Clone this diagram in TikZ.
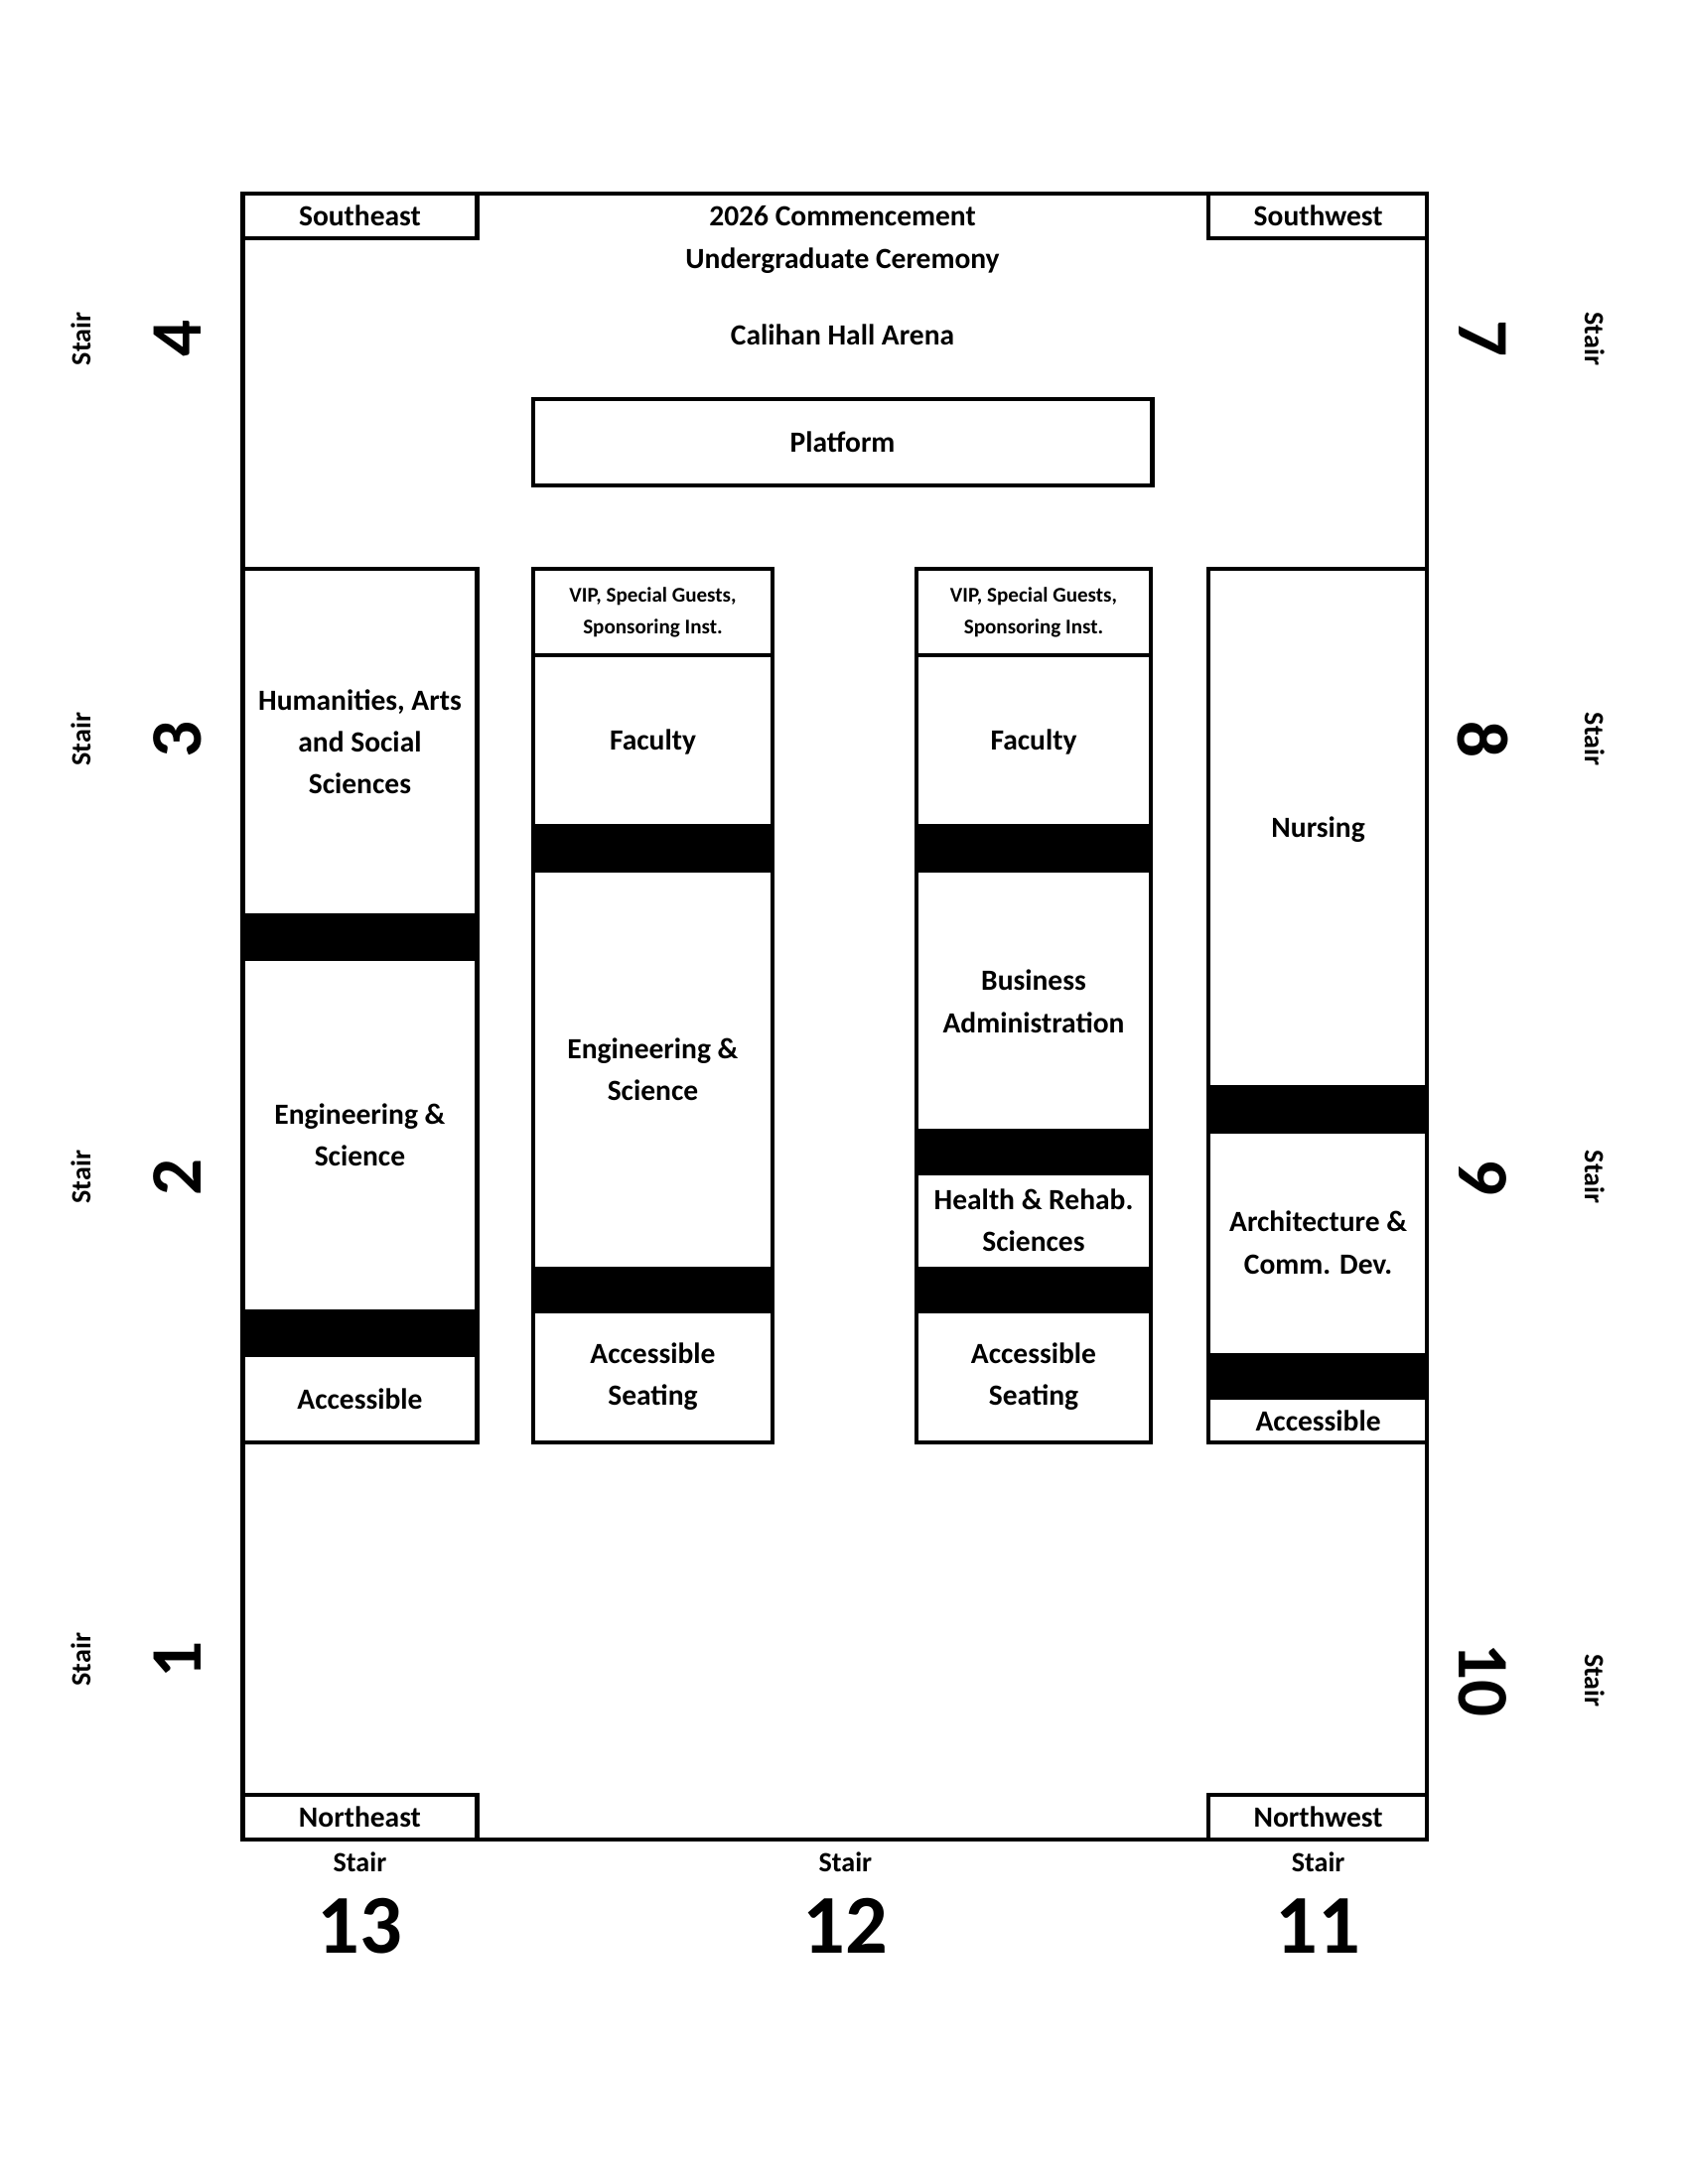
\documentclass[tikz,border=0pt]{standalone}
\usepackage{fontspec}
\setmainfont{Carlito}
\begin{document}
\begin{tikzpicture}[x=0.5pt,y=-0.5pt,
  box/.style={draw,line width=1.5pt},
  bar/.style={fill=black},
  lab/.style={font=\bfseries\fontsize{10.5}{15}\selectfont,align=center,inner sep=0},
  sm/.style={font=\bfseries\fontsize{7.5}{11.5}\selectfont,align=center,inner sep=0},
  big/.style={font=\bfseries\fontsize{26}{26}\selectfont,inner sep=0},
  bot/.style={font=\bfseries\fontsize{30}{30}\selectfont,inner sep=0},
  st/.style={font=\bfseries\fontsize{10}{12}\selectfont,inner sep=0}]
\useasboundingbox (0,0) rectangle (1210,1566);
\fill[white] (0,0) rectangle (1210,1566);
% outer
\draw[box] (174,139) rectangle (1023,1319);
\draw[box] (174,139) rectangle (342,171);
\draw[box] (866,139) rectangle (1023,171);
\draw[box] (174,1287) rectangle (342,1319);
\draw[box] (866,1287) rectangle (1023,1319);
\node[lab] (se) at (258,155) {Southeast};
\node[lab] (sw) at (945,155) {Southwest};
\node[lab] (ne) at (258,1303) {Northeast};
\node[lab] (nw) at (945,1303) {Northwest};
\node[lab] (t1) at (604,155) {2026 Commencement};
\node[lab] (t2) at (604,187) {Undergraduate Ceremony};
\node[lab] (t3) at (604,240) {Calihan Hall Arena};
\draw[box] (382,286) rectangle (826,348);
\node[lab] (pl) at (604,317) {Platform};
% column 1
\draw[box] (174,408) rectangle (342,1034);
\fill[bar] (174,655) rectangle (342,689);
\fill[bar] (174,939) rectangle (342,973);
\node[lab] (c1a) at (258,532) {Humanities, Arts\\and Social\\Sciences};
\node[lab] (c1b) at (258,814) {Engineering \&\\Science};
\node[lab] (c1c) at (258,1003) {Accessible};
% column 2
\draw[box] (382,408) rectangle (554,1034);
\draw[box] (382,470) -- (554,470);
\fill[bar] (382,591) rectangle (554,626);
\fill[bar] (382,908) rectangle (554,942);
\node[sm] (c2a) at (468,439) {VIP, Special Guests,\\Sponsoring Inst.};
\node[lab] (c2b) at (468,532) {Faculty};
\node[lab] (c2c) at (468,767) {Engineering \&\\Science};
\node[lab] (c2d) at (468,987) {Accessible\\Seating};
% column 3
\draw[box] (657,408) rectangle (825,1034);
\draw[box] (657,470) -- (825,470);
\fill[bar] (657,591) rectangle (825,626);
\fill[bar] (657,809) rectangle (825,843);
\fill[bar] (657,908) rectangle (825,942);
\node[sm] (c3a) at (741,439) {VIP, Special Guests,\\Sponsoring Inst.};
\node[lab] (c3b) at (741,532) {Faculty};
\node[lab] (c3c) at (741,718) {Business\\Administration};
\node[lab] (c3d) at (741,875) {Health \& Rehab.\\Sciences};
\node[lab] (c3e) at (741,987) {Accessible\\Seating};
% column 4
\draw[box] (866,408) rectangle (1023,1034);
\fill[bar] (866,778) rectangle (1023,813);
\fill[bar] (866,970) rectangle (1023,1004);
\node[lab] (c4a) at (945,595) {Nursing};
\node[lab] (c4b) at (945,891) {Architecture \&\\Comm. Dev.};
\node[lab] (c4c) at (945,1019) {Accessible};
% left stairs
\foreach \y/\n [count=\i] in {243/4,530/3,844/2,1190/1}{
  \node[st,rotate=90] (ls\i) at (58,\y) {Stair};
  \node[big,rotate=90] (ln\i) at (127,\y) {\n};
}
\foreach \y/\n [count=\i] in {243/7,530/8,844/9,1205/10}{
  \node[big,rotate=-90] (rn\i) at (1063,\y) {\n};
}
\foreach \y [count=\i] in {243,530,844,1205}{
  \node[st,rotate=-90] (rs\i) at (1143,\y) {Stair};
}
\foreach \x/\n [count=\i] in {258/13,606/12,945/11}{
  \node[st] (bs\i) at (\x,1335) {Stair};
  \node[bot] (bn\i) at (\x,1381) {\n};
}
\end{tikzpicture}
\end{document}
